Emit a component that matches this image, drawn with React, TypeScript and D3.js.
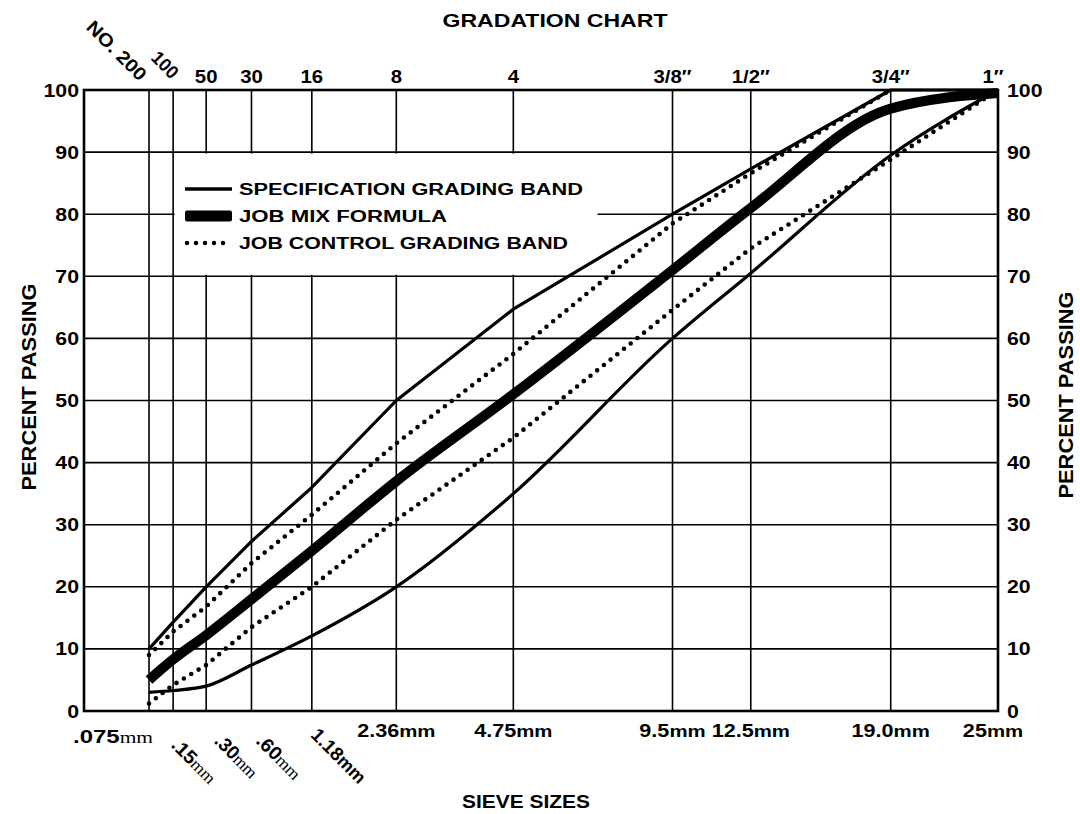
import React from "react";
import * as d3 from "d3";

const sieveSizes = [0.075, 0.15, 0.3, 0.6, 1.18, 2.36, 4.75, 9.5, 12.5, 19, 25];
const topLabels = ["NO. 200", "100", "50", "30", "16", "8", "4", "3/8\u2033", "1/2\u2033", "3/4\u2033", "1\u2033"];
const bottomLabels = [".075", ".15", ".30", ".60", "1.18", "2.36", "4.75", "9.5", "12.5", "19.0", "25"];
const percentTicks = [0, 10, 20, 30, 40, 50, 60, 70, 80, 90, 100];

const specUpperSizes = [0.075, 0.15, 0.3, 0.6, 1.18, 2.36, 4.75, 9.5, 12.5, 19, 25];
const specUpper = [10, 14.3, 20, 27.3, 36, 50, 64.7, 80, 87.3, 100, 100];
const specLowerSizes = [0.075, 0.15, 0.3, 0.6, 1.18, 2.36, 4.75, 9.5, 12.5, 19, 25];
const specLower = [3, 3.3, 4, 7.4, 12.1, 20, 35, 60, 70.5, 89.5, 100];
const jmfSizes = [0.075, 0.15, 0.3, 0.6, 1.18, 2.36, 4.75, 9.5, 12.5, 19, 25];
const jmf = [5, 8.3, 12.2, 18, 25.8, 37, 51, 71, 81, 97, 99.5];
const ctrlUpperSizes = [0.075, 0.15, 0.3, 0.6, 1.18, 2.36, 4.75, 9.5, 12.5, 19];
const ctrlUpper = [9, 12.8, 16.8, 23.8, 31.6, 43.1, 57.5, 78.5, 86.6, 100];
const ctrlLowerSizes = [0.075, 0.15, 0.3, 0.6, 1.18, 2.36, 4.75, 9.5, 12.5, 19, 25];
const ctrlLower = [1.2, 4.2, 7.4, 13.5, 20, 30.8, 44, 64.6, 74.5, 88.8, 100];

const legendItems = ["SPECIFICATION GRADING BAND", "JOB MIX FORMULA", "JOB CONTROL GRADING BAND"];
const legendLengths = [344, 208, 329];

const W = 1080;
const H = 814;
const FONT = "'Liberation Sans', Arial, sans-serif";
const SERIF = "'Liberation Serif', 'DejaVu Serif', serif";

function Wide({ x, y, sx = 1.18, anchor = "middle", size = 18.5, children }: any) {
  return (
    <text
      transform={`translate(${x},${y}) scale(${sx},1)`}
      textAnchor={anchor}
      fontFamily={FONT}
      fontWeight="bold"
      fontSize={size}
    >
      {children}
    </text>
  );
}

export default function App() {
  const x = d3.scalePow().exponent(0.455).domain([0, 25]).range([84, 998]);
  const y = d3.scaleLinear().domain([0, 100]).range([711, 90]);

  const mk = (sizes: number[], vals: number[], curve: any) =>
    d3
      .line<number>()
      .x((_, i) => x(sizes[i]))
      .y((v) => y(v))
      .curve(curve)(vals) as string;

  const x0 = x(0);
  const x1 = x(25);
  const y0 = y(0);
  const y1 = y(100);

  const legendX = 185;
  const legendYs = [189, 216, 243];

  const rotOff = [0, -3, 7, 3.5, -2];
  const rotY = [0, 746, 742, 742, 736];
  const rotLen = [0, 55, 53, 55, 69];

  return (
    <svg
      width={W}
      height={H}
      viewBox={`0 0 ${W} ${H}`}
      style={{ position: "absolute", left: 0, top: 0, background: "#fff" }}
    >
      <rect x={0} y={0} width={W} height={H} fill="#fff" />
      {/* grid */}
      {percentTicks.map((p) => (
        <line key={"h" + p} x1={x0} x2={x1} y1={y(p)} y2={y(p)} stroke="#000" strokeWidth={1.6} />
      ))}
      {sieveSizes.map((s) => (
        <line key={"v" + s} x1={x(s)} x2={x(s)} y1={y0} y2={y1} stroke="#000" strokeWidth={1.6} />
      ))}
      {/* legend background */}
      <rect x={x(0.15) + 1.5} y={y(90) + 1.5} width={596 - x(0.15)} height={y(70) - y(90) - 3} fill="#fff" />
      {/* border */}
      <rect x={x0} y={y1} width={x1 - x0} height={y0 - y1} fill="none" stroke="#000" strokeWidth={2.6} />

      {/* data lines */}
      <path d={mk(specUpperSizes, specUpper, d3.curveLinear)} fill="none" stroke="#000" strokeWidth={3.2} strokeLinejoin="round" />
      <path d={mk(specLowerSizes, specLower, d3.curveMonotoneX)} fill="none" stroke="#000" strokeWidth={3.2} />
      <path d={mk(ctrlUpperSizes, ctrlUpper, d3.curveLinear)} fill="none" stroke="#000" strokeWidth={4.6} strokeDasharray="0 8.6" strokeLinecap="round" />
      <path d={mk(ctrlLowerSizes, ctrlLower, d3.curveLinear)} fill="none" stroke="#000" strokeWidth={4.6} strokeDasharray="0 8.6" strokeLinecap="round" />
      <path d={mk(jmfSizes, jmf, d3.curveMonotoneX)} fill="none" stroke="#000" strokeWidth={10} />

      {/* legend */}
      <line x1={legendX} x2={legendX + 47} y1={legendYs[0]} y2={legendYs[0]} stroke="#000" strokeWidth={3.5} />
      <rect x={legendX} y={legendYs[1] - 5.5} width={47} height={11} fill="#000" rx={2} />
      <line x1={legendX + 2} x2={legendX + 47} y1={legendYs[2]} y2={legendYs[2]} stroke="#000" strokeWidth={4.5} strokeDasharray="0 9" strokeLinecap="round" />
      {legendItems.map((t, i) => (
        <text
          key={t}
          x={239}
          y={legendYs[i] + 6}
          fontFamily={FONT}
          fontWeight="bold"
          fontSize={16}
          textLength={legendLengths[i]}
          lengthAdjust="spacingAndGlyphs"
        >
          {t}
        </text>
      ))}

      {/* left & right y labels */}
      {percentTicks.map((p) => (
        <Wide key={"l" + p} x={79} y={y(p) + 6.5} anchor="end" sx={1.15}>
          {p}
        </Wide>
      ))}
      {percentTicks.map((p) => (
        <Wide key={"r" + p} x={1007} y={y(p) + 6.5} anchor="start" sx={1.15}>
          {p}
        </Wide>
      ))}

      {/* top labels */}
      {topLabels.map((t, i) => {
        const s = sieveSizes[i];
        if (i === 0) {
          return (
            <text key={t} transform={`translate(${x(s) - 10},82) rotate(45)`} textAnchor="end" fontFamily={FONT} fontWeight="bold" fontSize={18.5} textLength={76} lengthAdjust="spacingAndGlyphs">
              {t}
            </text>
          );
        }
        if (i === 1) {
          return (
            <text key={t} transform={`translate(${x(s) - 2},80) rotate(45)`} textAnchor="end" fontFamily={FONT} fontWeight="bold" fontSize={18.5} textLength={30} lengthAdjust="spacingAndGlyphs">
              {t}
            </text>
          );
        }
        return (
          <Wide key={t} x={i === 10 ? x(s) - 5 : x(s)} y={83} sx={1.1}>
            {t}
          </Wide>
        );
      })}

      {/* bottom labels */}
      {bottomLabels.map((t, i) => {
        const s = sieveSizes[i];
        if (i === 0) {
          return (
            <text key={t} x={x(s) + 4} y={743} textAnchor="end" fontFamily={FONT} fontWeight="bold" fontSize={19} textLength={80} lengthAdjust="spacingAndGlyphs">
              {t}
              <tspan fontFamily={SERIF} fontWeight="normal" fontSize={17}>mm</tspan>
            </text>
          );
        }
        if (i <= 4) {
          const serif = i < 4;
          return (
            <text
              key={t}
              transform={`translate(${x(s) + rotOff[i]},${rotY[i]}) rotate(45)`}
              textAnchor="start"
              fontFamily={FONT}
              fontWeight="bold"
              fontSize={19}
              textLength={rotLen[i]}
              lengthAdjust="spacingAndGlyphs"
            >
              {t}
              <tspan fontFamily={serif ? SERIF : FONT} fontWeight={serif ? "normal" : "bold"} fontSize={serif ? 17 : 18}>
                mm
              </tspan>
            </text>
          );
        }
        return (
          <Wide key={t} x={i === 10 ? x(s) - 5 : x(s)} y={737} sx={1.2} size={18}>
            {t}
            <tspan fontSize={17}>mm</tspan>
          </Wide>
        );
      })}

      {/* titles */}
      <text x={555} y={27} textAnchor="middle" fontFamily={FONT} fontWeight="bold" fontSize={19} textLength={225} lengthAdjust="spacingAndGlyphs">
        GRADATION CHART
      </text>
      <text x={526} y={808} textAnchor="middle" fontFamily={FONT} fontWeight="bold" fontSize={19} textLength={128} lengthAdjust="spacingAndGlyphs">
        SIEVE SIZES
      </text>
      <text transform={`translate(36,387) rotate(-90)`} textAnchor="middle" fontFamily={FONT} fontWeight="bold" fontSize={19.5} textLength={207} lengthAdjust="spacingAndGlyphs">
        PERCENT PASSING
      </text>
      <text transform={`translate(1073,395) rotate(-90)`} textAnchor="middle" fontFamily={FONT} fontWeight="bold" fontSize={19.5} textLength={207} lengthAdjust="spacingAndGlyphs">
        PERCENT PASSING
      </text>
    </svg>
  );
}
